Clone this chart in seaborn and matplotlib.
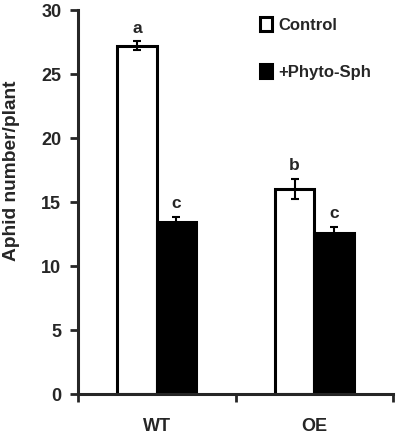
import pandas as pd
import matplotlib
matplotlib.use('Agg')
import matplotlib.pyplot as plt
import seaborn as sns
from matplotlib.patches import Patch

# data
lines = ['WT', 'OE']
treatments = ['Control', '+Phyto-Sph']
control_mean = [27.2, 16.0]
control_err = [0.35, 0.8]
sph_mean = [13.4, 12.6]
sph_err = [0.45, 0.45]
control_letters = ['a', 'b']
sph_letters = ['c', 'c']

df = pd.DataFrame({
    'line': lines + lines,
    'treatment': [treatments[0]] * 2 + [treatments[1]] * 2,
    'value': control_mean + sph_mean,
})
errs = control_err + sph_err
letters = control_letters + sph_letters

sns.set_style('ticks')
plt.rcParams['font.family'] = ['Liberation Sans', 'DejaVu Sans']
plt.rcParams['font.weight'] = 'bold'

fig = plt.figure(figsize=(3.97, 4.4), dpi=100)
ax = fig.add_axes([78 / 397, 46 / 440, 315 / 397, 384 / 440])

sns.barplot(data=df, x='line', y='value', hue='treatment', order=lines,
            hue_order=treatments, palette=['white', 'black'], width=0.5,
            edgecolor='black', linewidth=2.2, errorbar=None, legend=False, ax=ax)

# bars are in hue order: control WT, control OE, sph WT, sph OE
for p, e, lab in zip(ax.patches, errs, letters):
    cx = p.get_x() + p.get_width() / 2
    h = p.get_height()
    ax.errorbar(cx, h, yerr=e, color='black', capsize=3, elinewidth=1.5,
                capthick=1.5, zorder=5)
    ax.text(cx, h + e + 0.45, lab, ha='center', va='bottom', fontsize=12.5,
            fontweight='bold')

ax.set_ylim(0, 30)
ax.set_yticks(range(0, 31, 5))
ax.set_xlim(-0.5, 1.5)
ax.set_xticks([0, 1])
ax.set_xticklabels(lines, fontsize=13, fontweight='bold')
ax.set_xticks([-0.5, 0.5, 1.5], minor=True)
ax.tick_params(axis='x', which='major', length=0, pad=17)
ax.tick_params(axis='x', which='minor', length=6, width=2, direction='out')
ax.tick_params(axis='y', length=6, width=2, labelsize=13, pad=6)
for t in ax.get_yticklabels():
    t.set_fontweight('bold')
ax.set_xlabel('')
ax.set_ylabel('Aphid number/plant', fontsize=13.8, fontweight='bold')
ax.yaxis.set_label_coords(-58 / 315, 0.581)
ax.spines['top'].set_visible(False)
ax.spines['right'].set_visible(False)
ax.spines['left'].set_linewidth(2.2)
ax.spines['bottom'].set_linewidth(2.2)

handles = [Patch(facecolor='white', edgecolor='black', linewidth=2.2),
           Patch(facecolor='black', edgecolor='black', linewidth=2.2)]
ax.legend(handles, treatments, loc='upper left', bbox_to_anchor=(0.53, 1.02),
          frameon=False, handlelength=0.75, handleheight=0.85, handletextpad=0.35,
          labelspacing=1.9, prop={'size': 12, 'weight': 'bold'})

fig.savefig('out.png', dpi=100)
